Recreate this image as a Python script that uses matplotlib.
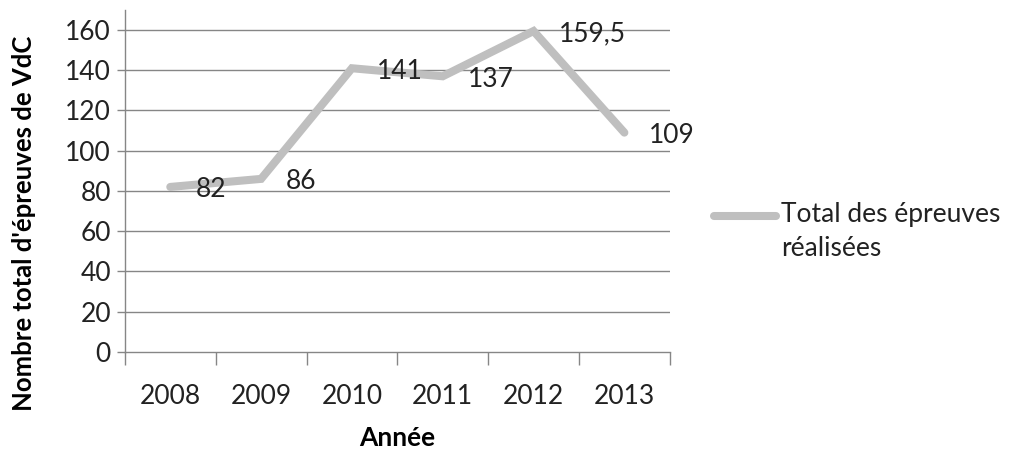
import matplotlib
matplotlib.use('Agg')
import matplotlib.pyplot as plt
from matplotlib.lines import Line2D

# Data
years = ['2008', '2009', '2010', '2011', '2012', '2013']
totals = [82, 86, 141, 137, 159.5, 109]
labels = ['82', '86', '141', '137', '159,5', '109']
series_name = 'Total des épreuves\nréalisées'

plt.rcParams['font.family'] = ['Lato', 'DejaVu Sans']

fig = plt.figure(figsize=(10.32, 4.5), dpi=100)
ax = fig.add_axes([0.121, 0.218, 0.528, 0.76])

x = list(range(len(years)))
ax.plot(x, totals, color='#bfbfbf', linewidth=5.8, solid_capstyle='round',
        solid_joinstyle='miter', zorder=3)

for xi, yi, lab in zip(x, totals, labels):
    ax.annotate(lab, (xi, yi), xytext=(25, -3), textcoords='offset pixels',
                ha='left', va='center', fontsize=19, color='#222222', zorder=4)

ax.set_xlim(-0.5, len(years) - 0.5)
ax.set_ylim(0, 170)
ax.set_yticks(range(0, 161, 20))
ax.set_xticks(x)
ax.set_xticklabels(years)
ax.set_xticks([i - 0.5 for i in range(len(years) + 1)], minor=True)
ax.tick_params(axis='x', which='major', length=0, pad=23, labelsize=19, colors='#222222')
ax.tick_params(axis='x', which='minor', length=9, width=1, color='#868686')
ax.tick_params(axis='y', length=6, width=1, color='#868686', labelsize=19,
               labelcolor='#222222', pad=4)

for v in range(20, 161, 20):
    ax.axhline(v, color='#868686', linewidth=1, zorder=1)

for s in ['top', 'right']:
    ax.spines[s].set_visible(False)
for s in ['left', 'bottom']:
    ax.spines[s].set_color('#868686')
    ax.spines[s].set_linewidth(1)

ax.set_xlabel('Année', fontsize=19, fontweight='bold', labelpad=12)
ax.set_ylabel("Nombre total d'épreuves de VdC", fontsize=18.5, fontweight='bold')
ax.yaxis.set_label_coords(-0.163, 0.377)

# legend drawn by hand so the line sits beside the first text line
fig.add_artist(Line2D([0.692, 0.752], [0.52, 0.52], color='#bfbfbf', linewidth=5.8,
                      solid_capstyle='round'))
fig.text(0.757, 0.552, series_name, fontsize=19, color='#222222',
         ha='left', va='top', linespacing=1.45)

fig.savefig('out.png', dpi=100)
